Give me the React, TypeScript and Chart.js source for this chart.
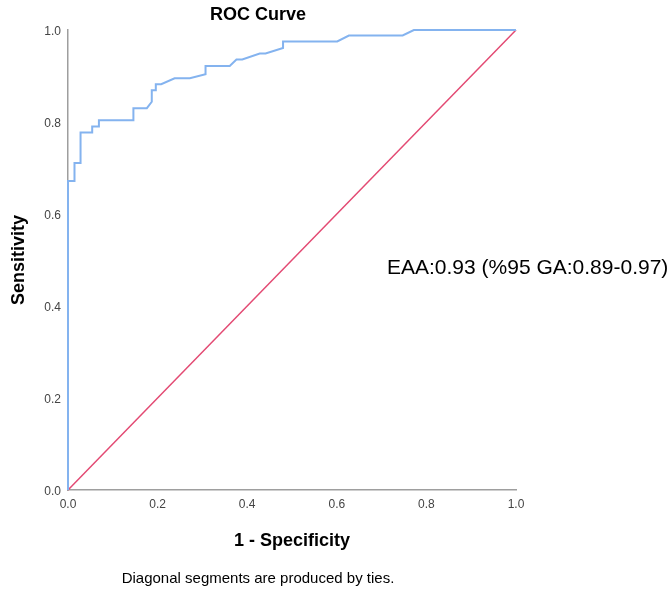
import React, { useEffect, useRef } from "react";
import { Chart, registerables } from "chart.js";

Chart.register(...registerables);

const fpr = [0, 0, 0.0145, 0.0145, 0.028, 0.028, 0.054, 0.054, 0.069, 0.069, 0.146, 0.146, 0.176, 0.187, 0.187, 0.196, 0.196, 0.208, 0.238, 0.272, 0.307, 0.307, 0.361, 0.376, 0.389, 0.428, 0.441, 0.48, 0.48, 0.601, 0.627, 0.747, 0.772, 1.0];
const tpr = [0, 0.672, 0.672, 0.711, 0.711, 0.777, 0.777, 0.79, 0.79, 0.804, 0.804, 0.83, 0.83, 0.844, 0.869, 0.869, 0.882, 0.882, 0.895, 0.895, 0.904, 0.922, 0.922, 0.936, 0.936, 0.949, 0.949, 0.961, 0.975, 0.975, 0.988, 0.988, 1.0, 1.0];
const refX = [0, 1];
const refY = [0, 1];

const titleText = "ROC Curve";
const xTitle = "1 - Specificity";
const yTitle = "Sensitivity";
const annotationText = "EAA:0.93 (%95 GA:0.89-0.97)";
const footnoteText = "Diagonal segments are produced by ties.";

const FONT = "'Liberation Sans', Arial, sans-serif";

const textPlugin = {
  id: "texts",
  afterDraw(chart: any) {
    const ctx = chart.ctx;
    ctx.save();
    ctx.fillStyle = "#000";
    ctx.textBaseline = "middle";
    ctx.textAlign = "center";
    ctx.font = `bold 18px ${FONT}`;
    ctx.fillText(titleText, 258, 15);
    ctx.font = `15px ${FONT}`;
    ctx.fillText(footnoteText, 258, 579);
    ctx.textAlign = "left";
    ctx.font = `21px ${FONT}`;
    ctx.fillText(annotationText, 387, 268);
    ctx.restore();
  },
};

export default function App() {
  const ref = useRef<HTMLCanvasElement | null>(null);
  useEffect(() => {
    document.body.style.margin = "0";
    document.body.style.overflow = "hidden";
    Chart.defaults.font.family = FONT;
    const chart = new Chart(ref.current as HTMLCanvasElement, {
      type: "scatter",
      data: {
        datasets: [
          {
            label: "ROC",
            data: fpr.map((x, i) => ({ x, y: tpr[i] })),
            showLine: true,
            borderColor: "#84b3ef",
            borderWidth: 2,
            pointRadius: 0,
            tension: 0,
            clip: false as any,
          },
          {
            label: "Reference",
            data: refX.map((x, i) => ({ x, y: refY[i] })),
            showLine: true,
            borderColor: "#e34a73",
            borderWidth: 1.5,
            pointRadius: 0,
            tension: 0,
            clip: false as any,
          },
        ],
      },
      options: {
        animation: false,
        responsive: false,
        layout: { padding: { left: 0, top: 30, right: 156, bottom: 0 } },
        plugins: {
          legend: { display: false },
          title: { display: false },
          tooltip: { enabled: false },
        },
        scales: {
          x: {
            type: "linear",
            min: 0,
            max: 1,
            afterFit(scale: any) {
              scale.height = 107;
            },
            grid: { display: false, drawTicks: true, tickLength: 4 },
            border: { display: true, color: "#9e9e9e", width: 1.5 },
            ticks: {
              stepSize: 0.2,
              padding: 3,
              color: "#444",
              font: { size: 12 },
              callback: (v: any) => Number(v).toFixed(1),
            },
            title: {
              display: true,
              text: xTitle,
              color: "#000",
              font: { size: 18, weight: "bold" },
              padding: { top: 0, bottom: 45 },
            },
          },
          y: {
            type: "linear",
            min: 0,
            max: 1,
            afterFit(scale: any) {
              scale.width = 68;
            },
            grid: { display: false, drawTicks: true, tickLength: 4 },
            border: { display: true, color: "#9e9e9e", width: 1.5 },
            ticks: {
              stepSize: 0.2,
              padding: 3,
              labelOffset: 2,
              color: "#444",
              font: { size: 12 },
              callback: (v: any) => Number(v).toFixed(1),
            },
            title: {
              display: true,
              text: yTitle,
              color: "#000",
              font: { size: 18, weight: "bold" },
              padding: { top: 8, bottom: 0 },
            },
          },
        },
      },
      plugins: [textPlugin],
    });
    return () => chart.destroy();
  }, []);
  return (
    <div style={{ width: 672, height: 597, background: "#fff" }}>
      <canvas ref={ref} width={672} height={597} style={{ display: "block" }} />
    </div>
  );
}
